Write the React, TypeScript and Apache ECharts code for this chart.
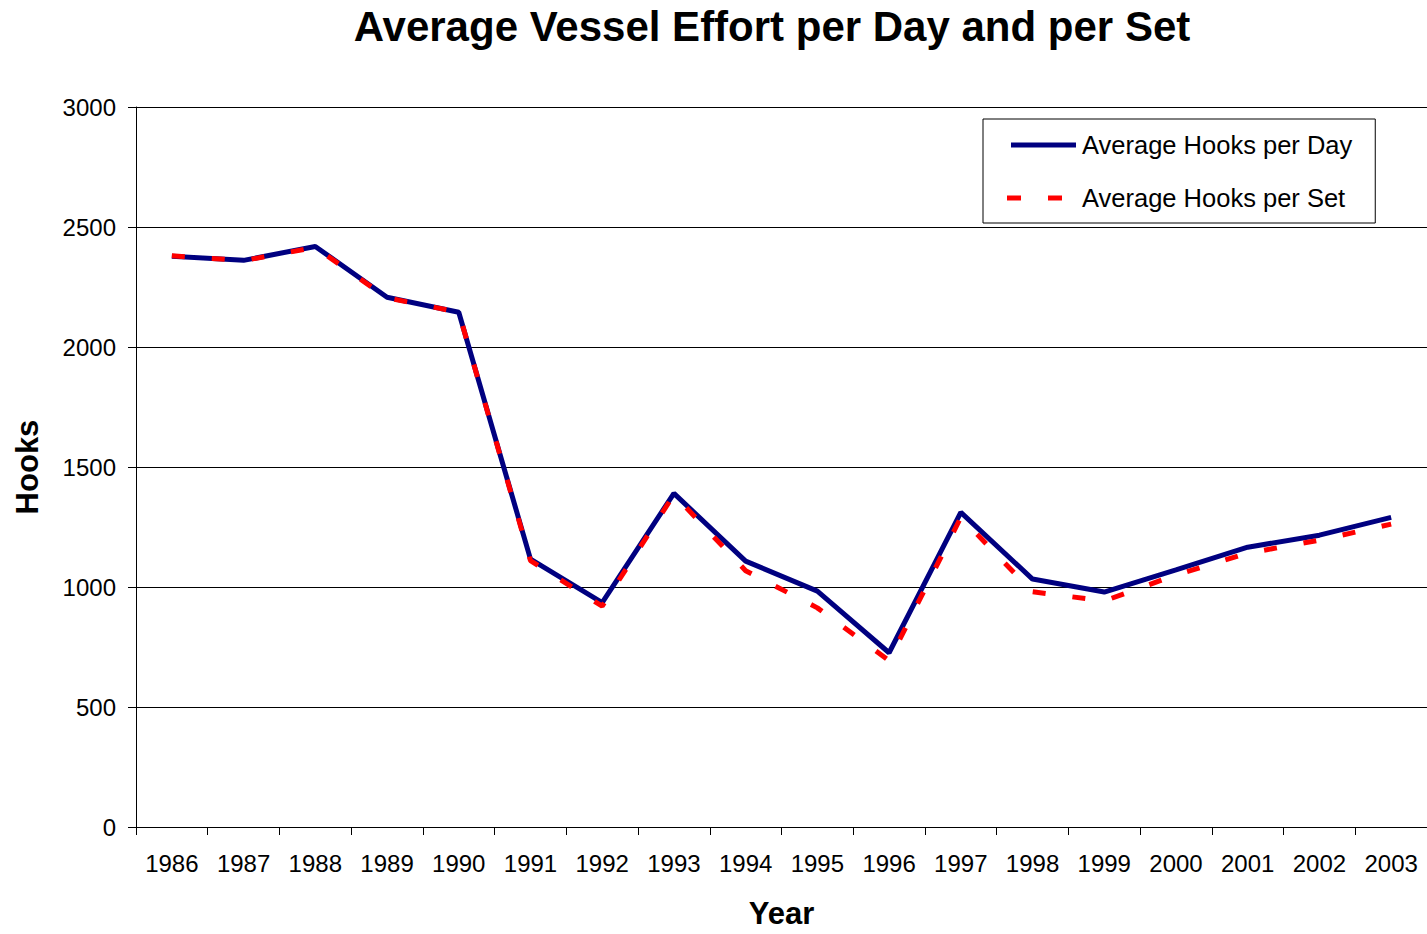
import React, { useEffect, useRef } from "react";
import * as echarts from "echarts";

const years = ["1986", "1987", "1988", "1989", "1990", "1991", "1992", "1993", "1994", "1995", "1996", "1997", "1998", "1999", "2000", "2001", "2002", "2003"];
const hooksPerDay = [2378, 2361, 2419, 2207, 2145, 1116, 935, 1390, 1108, 983, 726, 1311, 1033, 979, 1071, 1166, 1216, 1290];
const hooksPerSet = [2380, 2360, 2415, 2205, 2145, 1110, 920, 1385, 1068, 913, 693, 1290, 980, 942, 1050, 1141, 1195, 1262];
const yTicks = { min: 0, max: 3000, interval: 500 };

const FONT = "'Liberation Sans', Arial, sans-serif";

const DAY_ICON = "path://M0,0L0,5M4,0h65v5h-65z";
const SET_ICON = "path://M0,0h14v5h-14zM41,0h14v5h-14zM69,0L69,5";

export default function App() {
  const ref = useRef<HTMLDivElement>(null);
  useEffect(() => {
    if (!ref.current) return;
    const chart = echarts.init(ref.current, null, { renderer: "svg" });
    chart.setOption({
      animation: false,
      backgroundColor: "#ffffff",
      textStyle: { fontFamily: FONT, color: "#000" },
      title: {
        text: "Average Vessel Effort per Day and per Set",
        left: 767,
        textAlign: "center",
        top: 0,
        textStyle: { fontFamily: FONT, fontSize: 42, fontWeight: "bold", color: "#000" },
      },
      legend: {
        left: 983,
        top: 119,
        orient: "vertical",
        borderColor: "#000",
        borderWidth: 1,
        padding: [13, 23, 12, 24],
        itemWidth: 69,
        itemHeight: 5,
        itemGap: 27,
        textStyle: { fontFamily: FONT, fontSize: 25.5, color: "#000", padding: [0, 0, 0, 1] },
        data: [
          {
            name: "Average Hooks per Day",
            icon: DAY_ICON,
            itemStyle: { color: "#000080", borderWidth: 0 },
            lineStyle: { width: 0 },
          },
          {
            name: "Average Hooks per Set",
            icon: SET_ICON,
            itemStyle: { color: "#ff0000", borderWidth: 0 },
            lineStyle: { width: 0 },
          },
        ],
      },
      grid: { left: 136, right: 0, top: 107, bottom: 103, containLabel: false },
      xAxis: {
        type: "category",
        data: years,
        boundaryGap: true,
        name: "Year",
        nameLocation: "middle",
        nameGap: 71,
        nameTextStyle: { fontFamily: FONT, fontSize: 31, fontWeight: "bold", color: "#000" },
        axisLine: { show: true, lineStyle: { color: "#000", width: 1 } },
        axisTick: { show: true, interval: 0, length: 8, lineStyle: { color: "#000" } },
        axisLabel: { interval: 0, margin: 24, fontFamily: FONT, fontSize: 24, color: "#000" },
        splitLine: { show: false },
      },
      yAxis: {
        type: "value",
        min: yTicks.min,
        max: yTicks.max,
        interval: yTicks.interval,
        name: "Hooks",
        nameLocation: "middle",
        nameGap: 93,
        nameTextStyle: { fontFamily: FONT, fontSize: 31, fontWeight: "bold", color: "#000" },
        axisLine: { show: true, lineStyle: { color: "#000", width: 1 } },
        axisTick: { show: true, length: 8, lineStyle: { color: "#000" } },
        axisLabel: {
          margin: 20,
          fontFamily: FONT,
          fontSize: 24,
          color: "#000",
          formatter: (v: number) => String(v),
        },
        splitLine: { show: true, lineStyle: { color: "#000", width: 1 } },
      },
      series: [
        {
          name: "Average Hooks per Day",
          type: "line",
          data: hooksPerDay,
          symbol: "none",
          lineStyle: { color: "#000080", width: 5 },
          itemStyle: { color: "#000080" },
          z: 2,
        },
        {
          name: "Average Hooks per Set",
          type: "line",
          data: hooksPerSet,
          symbol: "none",
          lineStyle: { color: "#ff0000", width: 5, type: [13, 27] },
          itemStyle: { color: "#ff0000" },
          z: 3,
        },
      ],
    });
    return () => chart.dispose();
  }, []);
  return (
    <div
      ref={ref}
      style={{ position: "absolute", left: 0, top: 0, width: 1427, height: 934, background: "#fff" }}
    />
  );
}
